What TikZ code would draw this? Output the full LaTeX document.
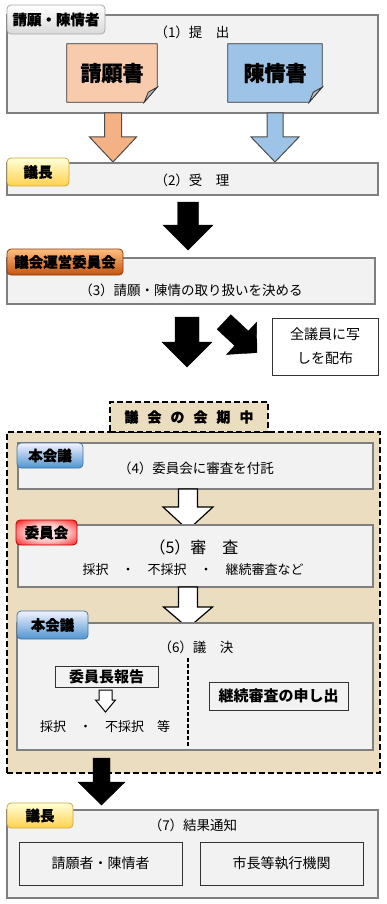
\documentclass[tikz,border=0pt]{standalone}
\usepackage{fontspec}
\setmainfont{Noto Sans CJK JP}
\newfontfamily\heavyfont{Noto Sans CJK JP}[BoldFeatures={FakeBold=0.7}]
\usepackage{xcolor}
\usetikzlibrary{positioning}
\definecolor{box-fill}{HTML}{F2F2F2}
\definecolor{box-line}{HTML}{7F7F7F}
\definecolor{paper-peach}{HTML}{F8CBAD}
\definecolor{paper-blue}{HTML}{9DC3E6}
\definecolor{arrow-peach}{HTML}{F4B183}
\definecolor{arrow-blue}{HTML}{9DC3E6}
\definecolor{session-bg}{HTML}{EBDDBF}
\definecolor{tag-yellow}{HTML}{FFD24D}
\definecolor{tag-orange}{HTML}{C4530F}
\definecolor{tag-blue}{HTML}{4F95D0}
\definecolor{tag-red}{HTML}{E80000}
\pgfdeclareradialshading{redglow}{\pgfpoint{0bp}{0bp}}{color(0bp)=(red!4);
  color(18bp)=(red!25); color(30bp)=(red!70); color(38bp)=(tag-red); color(50bp)=(tag-red)}

% #1 style, #2 centre x, #3 top, #4 tip, #5 half shaft, #6 half head, #7 head length
\newcommand{\blockdown}[7][]{%
  \draw[#1] ({#2-#5},#3) -- ({#2+#5},#3) -- ({#2+#5},{#4-#7}) -- ({#2+#6},{#4-#7})
    -- (#2,#4) -- ({#2-#6},{#4-#7}) -- ({#2-#5},{#4-#7}) -- cycle;}

\begin{document}
\begin{tikzpicture}[x=1pt, y=-1pt,
        every node/.style={font=\fontsize{13.5}{16}\selectfont, inner sep=0pt},
        stagebox/.style={draw=box-line, fill=box-fill, line width=1.3pt},
        plainbox/.style={draw=black!80, fill=box-fill, line width=1pt},
        tag/.style={draw, rounded corners=4pt, line width=0.8pt,
            font=\fontsize{14.5}{16}\heavyfont\bfseries\selectfont},
        paper/.style={draw=black!80, line width=0.8pt},
        blockblack/.style={fill=black},
        blockwhite/.style={draw=black, fill=white, line width=1.2pt}]
  \useasboundingbox (0,0) rectangle (386,904);

  % (1) submission
  \node[stagebox, minimum width=371pt, minimum height=98pt] (submit) at (192.5,64) {};
  \node (submitlbl) at (192,32) {（1）提　出};
  \node[minimum width=90pt, minimum height=58pt] (petition) at (112,73) {};
  \node[minimum width=94pt, minimum height=58pt] (appeal) at (275,73) {};
  \foreach \p/\c in {petition/paper-peach, appeal/paper-blue} {
    \draw[paper, fill=\c] (\p.north west) -- (\p.north east) -- ([yshift=15pt]\p.south east)
      -- ([xshift=-13pt]\p.south east) -- (\p.south west) -- cycle;
    \draw[paper, fill=gray!55] ([xshift=-13pt]\p.south east) -- ([yshift=15pt]\p.south east)
      -- ([xshift=-9pt,yshift=10pt]\p.south east) -- cycle;
  }
  \node[font=\fontsize{21}{24}\heavyfont\bfseries\selectfont] (petitiontxt) at (petition) {請願書};
  \node[font=\fontsize{21}{24}\heavyfont\bfseries\selectfont] (appealtxt) at (appeal) {陳情書};
  \node[tag, draw=gray!70, top color=white, bottom color=gray!30,
        minimum width=98pt, minimum height=29pt] (tagsubmit) at (56,19.5) {請願・陳情者};

  \blockdown[draw=black!70, fill=arrow-peach, line width=1pt]{113}{113}{162}{8.5}{23.5}{25}
  \blockdown[draw=black!70, fill=arrow-blue, line width=1pt]{275}{113}{162}{8}{24}{25}

  % (2) receipt
  \node[stagebox, minimum width=371pt, minimum height=32pt] (receive) at (192.5,179) {};
  \node (receivelbl) at (192,180) {（2）受　理};
  \node[tag, draw=tag-yellow!80!black, top color=yellow!15, bottom color=tag-yellow,
        minimum width=62pt, minimum height=28pt] (tagchair) at (38,172) {議長};

  \blockdown[blockblack]{188}{202}{250}{10.5}{25}{25}

  % (3) steering committee
  \node[stagebox, minimum width=368pt, minimum height=46pt] (steer) at (191,281) {};
  \node (steerlbl) at (191,290) {（3）請願・陳情の取り扱いを決める};
  \node[tag, draw=tag-orange!70!black, top color=orange!50, bottom color=tag-orange,
        minimum width=116pt, minimum height=26pt] (tagsteer) at (65,262) {議会運営委員会};

  \blockdown[blockblack]{187}{317}{367}{12}{25}{25}
  \begin{scope}[shift={(224,322)}, rotate=47]
    \blockdown[blockblack]{0}{0}{45}{10}{22}{21}
  \end{scope}
  \node[plainbox, fill=white, minimum width=106pt, minimum height=57pt, align=center,
        font=\fontsize{14}{24}\selectfont] (copies) at (325,346.5) {全議員に写\\しを配布};

  % session period
  \node[draw, fill=session-bg, line width=1.5pt, dash pattern=on 6pt off 3pt,
        minimum width=373pt, minimum height=341pt] (session) at (193.5,602.5) {};
  \node[draw, fill=session-bg, line width=1.5pt, dash pattern=on 6pt off 3pt,
        minimum width=158pt, minimum height=30pt,
        font=\fontsize{14}{16}\heavyfont\bfseries\selectfont] (sessiontab) at (189,417)
        {議\hspace{9pt}会\hspace{9pt}の\hspace{9pt}会\hspace{9pt}期\hspace{9pt}中};

  % (4) referral
  \node[stagebox, minimum width=355pt, minimum height=46pt] (refer) at (195.5,466) {};
  \node (referlbl) at (196,468) {（4）委員会に審査を付託};
  \node[tag, draw=tag-blue!80!black, top color=blue!5, bottom color=tag-blue,
        minimum width=66pt, minimum height=25pt] (tagplenary) at (50,455.5) {本会議};

  \blockdown[blockwhite]{188}{489}{530}{9.5}{25}{23}

  % (5) examination
  \node[stagebox, minimum width=355pt, minimum height=62pt] (exam) at (195.5,556) {};
  \node[font=\fontsize{16}{18}\selectfont] (examlbl) at (194,547) {（5）審　査};
  \node[font=\fontsize{13}{16}\selectfont] (examsub) at (193,570) {採択　・　不採択　・　継続審査など};
  \node[tag, draw=tag-red!80!black, shading=redglow,
        minimum width=61pt, minimum height=25pt] (tagcommittee) at (46.5,532.5) {委員会};

  \blockdown[blockwhite]{188}{587}{628}{9.5}{24.5}{21}

  % (6) decision
  \node[stagebox, minimum width=356pt, minimum height=127pt] (decide) at (195,686.5) {};
  \node (decidelbl) at (196,647) {（6）議　決};
  \coordinate (splittop) at (188,658);
  \coordinate (splitbot) at (188,747);
  \draw[line width=1.2pt, dash pattern=on 4pt off 2pt] (splittop) -- (splitbot);
  \node[plainbox, minimum width=103pt, minimum height=21pt,
        font=\fontsize{15}{16}\bfseries\selectfont] (report) at (106.5,676.5) {委員長報告};
  \blockdown[draw=black, fill=white, line width=1pt]{105.5}{690}{712}{6.5}{10}{12}
  \node[font=\fontsize{13}{16}\selectfont] (verdict) at (105,727) {採択　・　不採択　等};
  \node[plainbox, minimum width=139pt, minimum height=28pt,
        font=\fontsize{15}{16}\bfseries\selectfont] (continue) at (278.5,696) {継続審査の申し出};
  \node[tag, draw=tag-blue!80!black, top color=blue!5, bottom color=tag-blue,
        minimum width=71pt, minimum height=28pt] (tagplenary2) at (52.5,625) {本会議};

  \blockdown[blockblack]{101.5}{758}{805}{8.5}{23.5}{23}

  % (7) notification
  \node[stagebox, minimum width=371pt, minimum height=88pt] (notify) at (192.5,854) {};
  \node (notifylbl) at (193,825) {（7）結果通知};
  \node[plainbox, minimum width=163pt, minimum height=43pt,
        font=\fontsize{14}{16}\selectfont] (notifyfiler) at (100.5,863.5) {請願者・陳情者};
  \node[plainbox, minimum width=163pt, minimum height=43pt,
        font=\fontsize{14}{16}\selectfont] (notifymayor) at (281.5,863.5) {市長等執行機関};
  \node[tag, draw=tag-yellow!80!black, top color=yellow!15, bottom color=tag-yellow,
        minimum width=66pt, minimum height=25pt] (tagchair2) at (40,815.5) {議長};
\end{tikzpicture}
\end{document}
